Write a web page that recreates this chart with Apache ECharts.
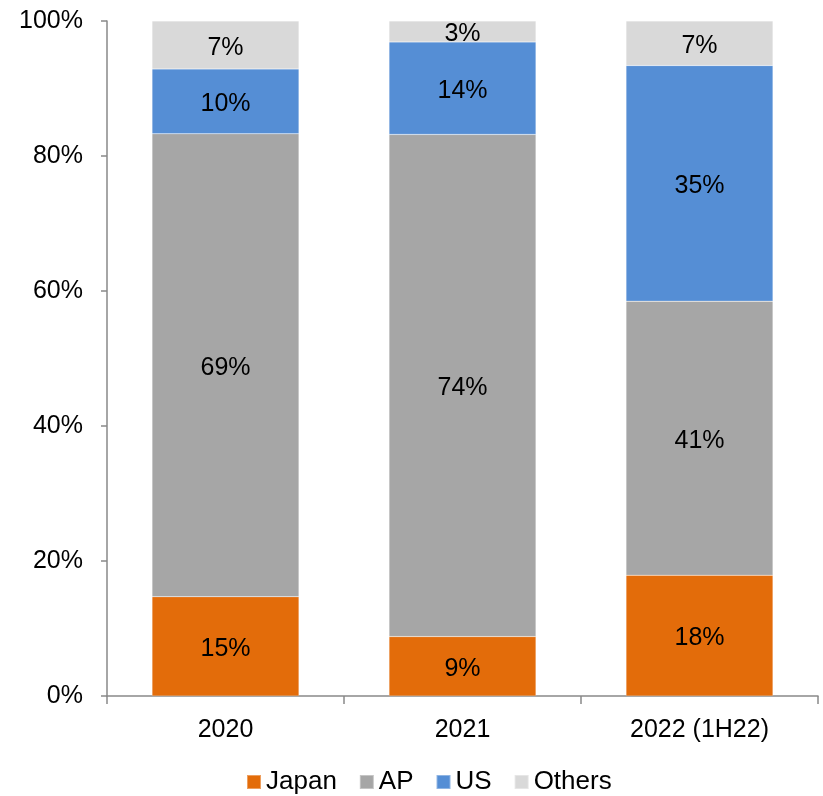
<!DOCTYPE html>
<html>
<head>
<meta charset="utf-8">
<script src="https://cdn.jsdelivr.net/npm/echarts@6/dist/echarts.min.js"></script>
<style>html,body{margin:0;padding:0;background:#fff}#c{width:823px;height:796px}</style>
</head>
<body>
<div id="c"></div>
<script>
var categories = ['2020', '2021', '2022 (1H22)'];
var japan = [14.7, 8.8, 17.9];
var ap = [68.6, 74.4, 40.6];
var us = [9.6, 13.7, 34.9];
var others = [7.1, 3.1, 6.6];
var yTicks = [0, 20, 40, 60, 80, 100];

var FONT = 'Liberation Sans, Arial, sans-serif';
var lbl = {
  show: true, position: 'inside', color: '#000', fontSize: 25, fontFamily: FONT,
  offset: [0, 3],
  formatter: function (p) { return Math.round(p.value) + '%'; }
};
function mk(name, data, color) {
  return {
    name: name, type: 'bar', stack: 'a', data: data, barWidth: '62%',
    itemStyle: { color: color, borderColor: 'rgba(255,255,255,0.35)', borderWidth: 0.5 },
    label: lbl, emphasis: { disabled: true }
  };
}
var chart = echarts.init(document.getElementById('c'));
chart.setOption({
  animation: false,
  grid: { left: 107, right: 5, top: 21, bottom: 100, containLabel: false },
  legend: {
    left: 246, top: 769, padding: 0, itemWidth: 14, itemHeight: 14, itemGap: 22,
    icon: 'rect',
    textStyle: { fontSize: 26, fontFamily: FONT, color: '#000' },
    data: ['Japan', 'AP', 'US', 'Others']
  },
  xAxis: {
    type: 'category', data: categories,
    axisLine: { lineStyle: { color: '#898989', width: 1.5 } },
    axisTick: { show: true, length: 8, lineStyle: { color: '#898989', width: 1.5 } },
    axisLabel: { fontSize: 25, fontFamily: FONT, color: '#000', margin: 22 }
  },
  yAxis: {
    type: 'value', min: yTicks[0], max: yTicks[yTicks.length - 1], interval: 20,
    splitLine: { show: false },
    axisLine: { show: true, lineStyle: { color: '#898989', width: 1.5 } },
    axisTick: { show: true, length: 6, lineStyle: { color: '#898989', width: 1.5 } },
    axisLabel: { fontSize: 25, fontFamily: FONT, color: '#000', margin: 24, formatter: '{value}%' }
  },
  series: [
    mk('Japan', japan, '#e36c0a'),
    mk('AP', ap, '#a6a6a6'),
    mk('US', us, '#558ed5'),
    mk('Others', others, '#d9d9d9')
  ]
});
</script>
</body>
</html>
